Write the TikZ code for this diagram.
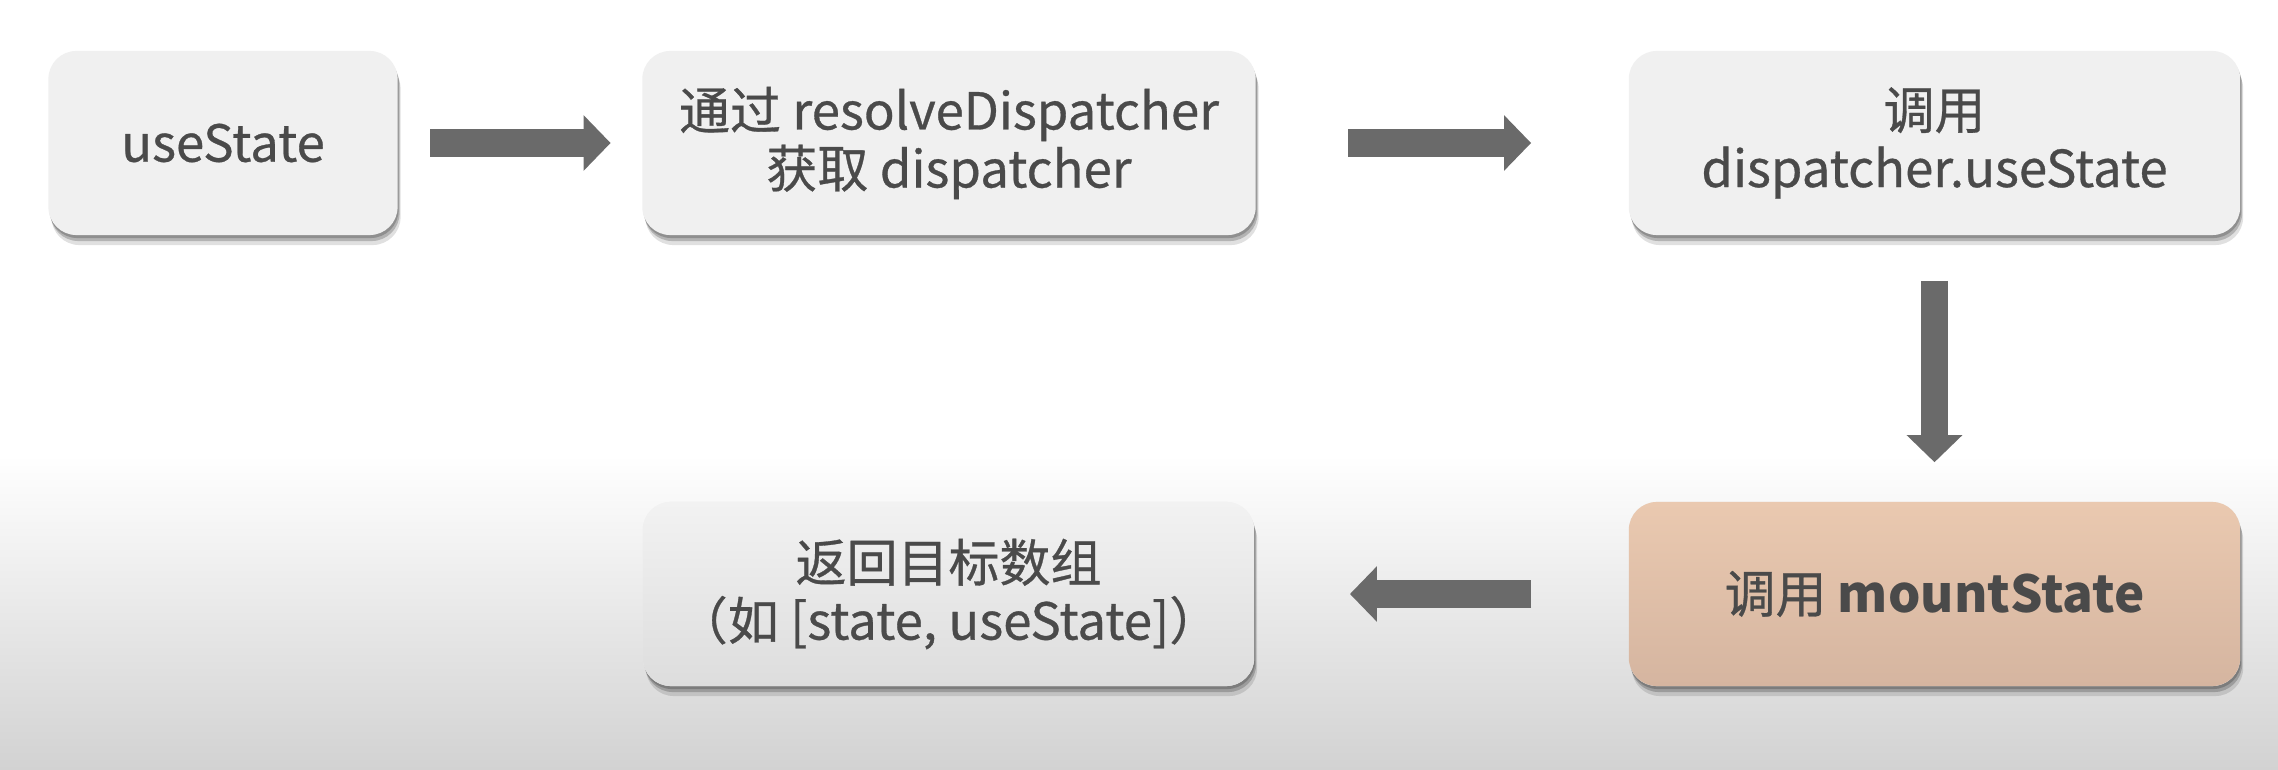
\documentclass[tikz,border=0pt]{standalone}
\usepackage{fontspec}
\setmainfont{Noto Sans CJK SC}[UprightFeatures={FakeBold=0.6}]
\usetikzlibrary{arrows.meta,shadows}
\definecolor{boxfill}{RGB}{240,240,240}
\definecolor{txt}{RGB}{74,74,74}
\definecolor{arrowc}{RGB}{106,106,106}
\definecolor{bgbot}{RGB}{210,210,210}
\definecolor{peachtop}{RGB}{234,201,176}
\definecolor{peachbot}{RGB}{213,181,160}
\definecolor{graytop}{RGB}{242,242,242}
\definecolor{graybot}{RGB}{221,221,221}
\tikzset{
  box/.style={rectangle, rounded corners=0.28cm, fill=boxfill, text=txt,
    minimum height=1.84cm, align=center, inner sep=0pt,
    font=\fontsize{14.5pt}{16.5pt}\selectfont,
    drop shadow={shadow xshift=0.03cm, shadow yshift=-0.10cm, opacity=0.12, fill=black},
    drop shadow={shadow xshift=0.02cm, shadow yshift=-0.06cm, opacity=0.2, fill=black},
    drop shadow={shadow xshift=0.01cm, shadow yshift=-0.03cm, opacity=0.2, fill=black}},
  flow/.style={draw=arrowc, line width=0.27cm,
    -{Triangle[width=0.54cm,length=0.27cm]}},
}
\begin{document}
\begin{tikzpicture}[x=0.01cm,y=-0.01cm]
\fill[white] (0,0) rectangle (2278,770);
\shade[top color=white, bottom color=bgbot] (0,455) rectangle (2278,770);
\useasboundingbox (0,0) rectangle (2278,770);

\node[box, minimum width=3.49cm] (a) at (223,143) {useState};
\node[box, minimum width=6.13cm] (b) at (949,143) {通过 resolveDispatcher\\获取 dispatcher};
\node[box, minimum width=6.11cm] (c) at (1934.5,143) {调用\\dispatcher.useState};
\node[box, minimum width=6.11cm, top color=peachtop, bottom color=peachbot] (d) at (1934.5,594) {调用 \textbf{mountState}};
\node[box, minimum width=6.11cm, top color=graytop, bottom color=graybot] (e) at (948.5,594) {返回目标数组\\（如 [state, useState]）};

\draw[flow, shorten <=0.32cm, shorten >=0.31cm] (a.east) -- (b.west);
\draw[flow, shorten <=0.92cm, shorten >=0.97cm] (b.east) -- (c.west);
\draw[flow, shorten <=0.45cm, shorten >=0.39cm] (c.south) -- (d.north);
\draw[flow, shorten <=0.97cm, shorten >=0.95cm] (d.west) -- (e.east);
\end{tikzpicture}
\end{document}
